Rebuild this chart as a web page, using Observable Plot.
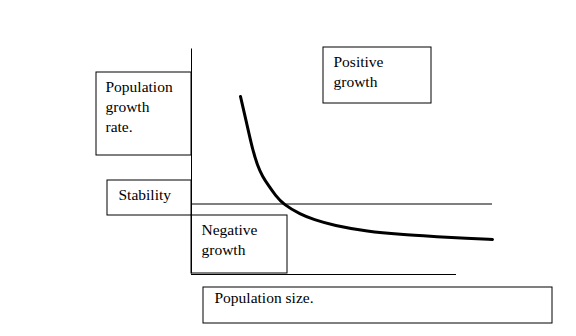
<!DOCTYPE html>
<html>
<head>
<meta charset="utf-8">
<script src="https://cdn.jsdelivr.net/npm/d3@7"></script>
<script src="https://cdn.jsdelivr.net/npm/@observablehq/plot@0.6"></script>
<style>
  html, body { margin: 0; padding: 0; background: #fff; }
</style>
</head>
<body>
<div id="chart"></div>
<script>
// Schematic: population growth rate vs. population size (arbitrary units,
// origin where the rate axis meets the stability line).

// Growth-rate curve
const curveSize = [4.9, 5.5, 6.1, 6.6, 7.1, 7.7, 8.4, 9.2, 10.9, 12.2, 14.2, 17.6, 20.9, 24.2, 27.6, 30.1];
const curveRate = [10.75, 8.15, 5.45, 3.85, 2.75, 1.85, 0.85, -0.05, -1.05, -1.55, -2.15, -2.75, -3.05, -3.25, -3.45, -3.55];

// Labelled boxes
const boxText = ["Population\ngrowth\nrate.", "Stability", "Negative\ngrowth", "Positive\ngrowth", "Population size."];
const boxX1 = [-9.5, -8.4, 0, 13.2, 1.2];
const boxX2 = [0, 0, 9.6, 24.0, 36.1];
const boxY1 = [13.15, 2.35, -1.15, 15.65, -8.35];
const boxY2 = [4.85, -1.15, -6.95, 10.05, -11.95];
const textX = [-8.6, -7.3, 1.0, 14.2, 2.3];
const textY = [12.65, 1.8, -1.7, 15.1, -8.5];

// Reference lines: rate axis, stability line, size axis
const rateAxis = {x: 0, y1: -7.0, y2: 15.5};
const stabilityLine = {y: 0, x1: 0, x2: 30.1};
const sizeAxis = {y: -7.05, x1: 0, x2: 26.5};

const curve = curveSize.map((s, i) => ({size: s, rate: curveRate[i]}));
const boxes = boxText.map((t, i) => ({
  text: t, x1: boxX1[i], x2: boxX2[i], y1: boxY1[i], y2: boxY2[i], tx: textX[i], ty: textY[i]
}));

const serif = "'Liberation Serif', 'Times New Roman', serif";

const chart = Plot.plot({
  width: 576,
  height: 336,
  margin: 0,
  x: {domain: [-19.1, 38.5], axis: null},
  y: {domain: [-13.25, 20.35], axis: null},
  style: {background: "#fff", fontFamily: serif},
  marks: [
    Plot.ruleY([stabilityLine], {y: "y", x1: "x1", x2: "x2", stroke: "#000", strokeWidth: 1}),
    Plot.ruleY([sizeAxis], {y: "y", x1: "x1", x2: "x2", stroke: "#000", strokeWidth: 1}),
    Plot.rect(boxes, {x1: "x1", x2: "x2", y1: "y1", y2: "y2", fill: "#fff", stroke: "#000", strokeWidth: 1}),
    Plot.ruleX([rateAxis], {x: "x", y1: "y1", y2: "y2", stroke: "#000", strokeWidth: 1}),
    Plot.line(curve, {x: "size", y: "rate", curve: "basis", stroke: "#000", strokeWidth: 3}),
    Plot.text(boxes, {
      x: "tx", y: "ty", text: "text",
      textAnchor: "start", lineAnchor: "top", lineHeight: 1.3,
      fontSize: 15.5, fontFamily: serif, fill: "#000"
    })
  ]
});

document.getElementById("chart").appendChild(chart);
</script>
</body>
</html>
